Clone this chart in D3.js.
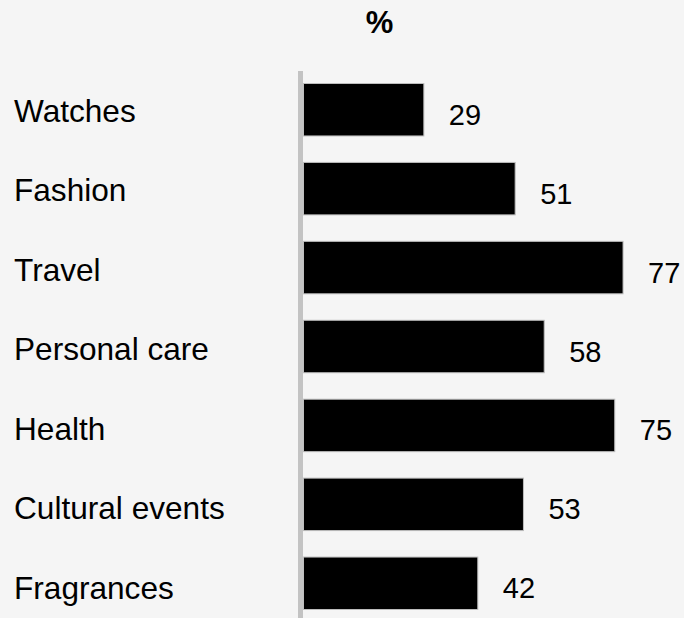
<!DOCTYPE html>
<html>
<head>
<meta charset="utf-8">
<script src="https://cdn.jsdelivr.net/npm/d3@7"></script>
<style>
  html, body { margin: 0; padding: 0; background: #f5f5f5; }
  svg { display: block; }
  text { font-family: "Liberation Sans", Arial, Helvetica, sans-serif; fill: #000; }
</style>
</head>
<body>
<script>
const categories = ["Watches", "Fashion", "Travel", "Personal care", "Health", "Cultural events", "Fragrances"];
const values = [29, 51, 77, 58, 75, 53, 42];
const title = "%";

const W = 684, H = 618;
const svg = d3.select("body").append("svg").attr("width", W).attr("height", H);
svg.append("rect").attr("width", W).attr("height", H).attr("fill", "#f5f5f5");

const x = d3.scaleLinear().domain([0, 100]).range([303.5, 718.5]);
const y = d3.scaleBand().domain(categories).range([83.5, 609.5]).paddingInner(26.5 / 79).paddingOuter(0);

// axis line
svg.append("line")
  .attr("x1", 300.5).attr("x2", 300.5)
  .attr("y1", 71).attr("y2", H)
  .attr("stroke", "#c3c3c3").attr("stroke-width", 5);

// title
svg.append("text")
  .attr("x", 379.5).attr("y", 33)
  .attr("text-anchor", "middle")
  .style("font-size", "31px").style("font-weight", "bold")
  .text(title);

const data = categories.map((c, i) => ({ c, v: values[i] }));

svg.selectAll("rect.bar").data(data).enter().append("rect")
  .attr("class", "bar")
  .attr("x", x(0))
  .attr("y", d => y(d.c))
  .attr("width", d => x(d.v) - x(0))
  .attr("height", y.bandwidth())
  .attr("fill", "#000")
  .attr("stroke", "#bdbdbd").attr("stroke-width", 1);

svg.selectAll("text.val").data(data).enter().append("text")
  .attr("class", "val")
  .attr("x", d => x(d.v) + 25)
  .attr("y", d => y(d.c) + y.bandwidth() / 2 + 15)
  .style("font-size", "29px")
  .text(d => d.v);

svg.selectAll("text.cat").data(data).enter().append("text")
  .attr("class", "cat")
  .attr("x", 14)
  .attr("y", (d, i) => y(d.c) + y.bandwidth() / 2 + 12 + i * 0.6)
  .style("font-size", "31.6px")
  .text(d => d.c);
</script>
</body>
</html>
